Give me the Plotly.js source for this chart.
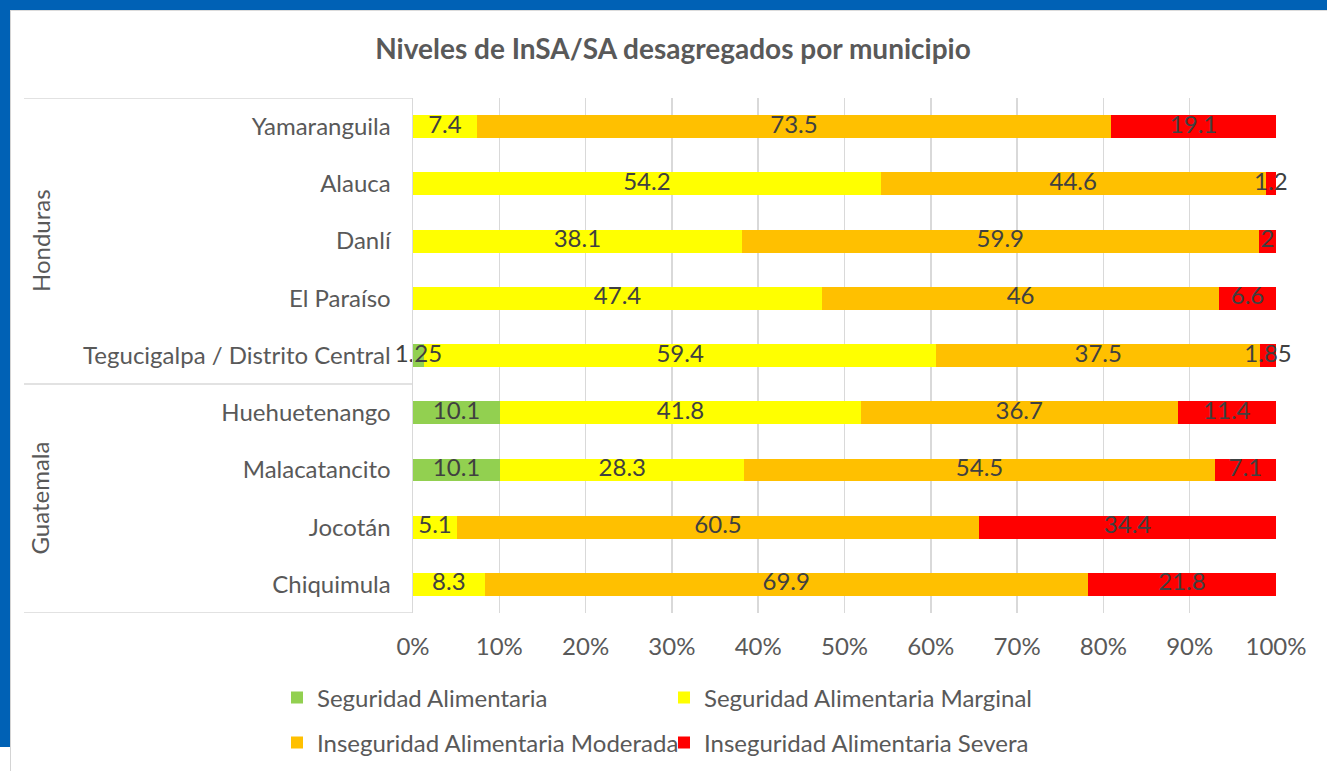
<!DOCTYPE html>
<html>
<head>
<meta charset="utf-8">
<script src="https://cdn.plot.ly/plotly-3.0.1.min.js"></script>
<style>
  html, body { margin: 0; padding: 0; background: #ffffff; }
  #wrap { position: relative; width: 1327px; height: 771px; overflow: hidden; background: #ffffff; }
  #chart { position: absolute; left: 0; top: 0; width: 1327px; height: 771px; }
  .frame { position: absolute; }
</style>
</head>
<body>
<div id="wrap">
  <div class="frame" style="left:0;top:0;width:1327px;height:10px;background:#0061b5;"></div>
  <div class="frame" style="left:0;top:10px;width:1327px;height:1px;background:#dcdcdc;"></div>
  <div class="frame" style="left:0;top:0;width:10px;height:747px;background:#0061b5;"></div>
  <div class="frame" style="left:10px;top:10px;width:1px;height:761px;background:#d4d4d4;"></div>
  <div id="chart"></div>
</div>
<script>
const municipios = ["Yamaranguila", "Alauca", "Danlí", "El Paraíso", "Tegucigalpa / Distrito Central",
                    "Huehuetenango", "Malacatancito", "Jocotán", "Chiquimula"];
const paises = ["Honduras", "Guatemala"];
const seguridad = [0, 0, 0, 0, 1.25, 10.1, 10.1, 0, 0];
const marginal = [7.4, 54.2, 38.1, 47.4, 59.4, 41.8, 28.3, 5.1, 8.3];
const moderada = [73.5, 44.6, 59.9, 46, 37.5, 36.7, 54.5, 60.5, 69.9];
const severa = [19.1, 1.2, 2, 6.6, 1.85, 11.4, 7.1, 34.4, 21.8];
const xTicks = [0, 10, 20, 30, 40, 50, 60, 70, 80, 90, 100];

const seriesNames = ["Seguridad Alimentaria", "Seguridad Alimentaria Marginal",
                     "Inseguridad Alimentaria Moderada", "Inseguridad Alimentaria Severa"];
const seriesData = [seguridad, marginal, moderada, severa];
const colors = ["#92d050", "#ffff00", "#ffc000", "#ff0000"];
const legendIds = ["legend", "legend", "legend2", "legend2"];
const FONT = "Lato, 'Open Sans', sans-serif";

const barTraces = seriesData.map((vals, i) => ({
  type: "bar",
  orientation: "h",
  name: seriesNames[i],
  y: municipios,
  x: vals.map(v => v === 0 ? null : v),
  marker: { color: colors[i], line: { width: 0 } },
  hoverinfo: "skip",
  legend: legendIds[i]
}));

// data labels drawn above all bars, centred on each segment
const labelTraces = seriesData.map((vals, i) => {
  const xs = [], ys = [], ts = [];
  vals.forEach((v, j) => {
    if (v === 0) return;
    let base = 0;
    for (let k = 0; k < i; k++) base += seriesData[k][j];
    xs.push(base + v / 2);
    ys.push(municipios[j]);
    ts.push(String(v));
  });
  return {
    type: "scatter", mode: "text",
    x: xs, y: ys, text: ts,
    textposition: "middle center",
    textfont: { family: FONT, size: 24, color: "#404040" },
    cliponaxis: false,
    showlegend: false,
    hoverinfo: "skip"
  };
});

const W = 1327, H = 771;
const L = 413, R = 1276, T = 98, B = 613;
const pw = R - L;
const px2x = p => (p - L) / pw;

const lineStyle = { color: "#d9d9d9", width: 1.5 };
const shapes = [
  { type: "line", xref: "paper", yref: "y", x0: px2x(24), x1: 0, y0: -0.5, y1: -0.5, line: lineStyle },
  { type: "line", xref: "paper", yref: "y", x0: px2x(24), x1: 0, y0: 4.5, y1: 4.5, line: lineStyle },
  { type: "line", xref: "paper", yref: "y", x0: px2x(24), x1: 0, y0: 8.5, y1: 8.5, line: lineStyle }
];

const annotations = [
  { text: paises[0], xref: "paper", yref: "y", x: px2x(40), y: 2, textangle: -90, showarrow: false,
    font: { family: FONT, size: 24, color: "#595959" }, xanchor: "center", yanchor: "middle" },
  { text: paises[1], xref: "paper", yref: "y", x: px2x(40), y: 6.5, textangle: -90, showarrow: false,
    font: { family: FONT, size: 24, color: "#595959" }, xanchor: "center", yanchor: "middle" }
];

const legendCommon = {
  orientation: "h",
  xref: "container", yref: "container",
  xanchor: "left", yanchor: "middle",
  entrywidth: 342,
  entrywidthmode: "pixels",
  traceorder: "normal",
  bgcolor: "rgba(0,0,0,0)",
  font: { family: FONT, size: 24, color: "#595959" }
};

const layout = {
  width: W, height: H,
  paper_bgcolor: "rgba(0,0,0,0)",
  plot_bgcolor: "rgba(0,0,0,0)",
  margin: { l: L, r: W - R, t: T, b: H - B, pad: 0, autoexpand: false },
  barmode: "stack",
  bargap: 0.6,
  title: {
    text: "<b>Niveles de InSA/SA desagregados por municipio</b>",
    font: { family: FONT, size: 28, color: "#595959" },
    xref: "container", yref: "container",
    x: 673 / W, xanchor: "center",
    y: 1 - 49 / H, yanchor: "middle"
  },
  xaxis: {
    range: [0, 100],
    tickvals: xTicks,
    ticktext: xTicks.map(v => v + "%"),
    showgrid: true,
    gridcolor: "#d9d9d9",
    gridwidth: 1.5,
    zeroline: false,
    showline: false,
    ticks: "",
    ticklabelstandoff: 17,
    tickfont: { family: FONT, size: 24, color: "#595959" },
    automargin: false,
    fixedrange: true
  },
  yaxis: {
    type: "category",
    categoryorder: "array",
    categoryarray: municipios,
    range: [8.5, -0.5],
    showgrid: false,
    zeroline: false,
    showline: true,
    linecolor: "#d9d9d9",
    linewidth: 1.5,
    ticks: "",
    ticklabelstandoff: 16,
    tickfont: { family: FONT, size: 24, color: "#595959" },
    automargin: false,
    fixedrange: true
  },
  legend: Object.assign({}, legendCommon, { x: 277 / W, y: 1 - 698 / H }),
  legend2: Object.assign({}, legendCommon, { x: 277 / W, y: 1 - 743 / H }),
  shapes: shapes,
  annotations: annotations,
  showlegend: true
};

Plotly.newPlot("chart", barTraces.concat(labelTraces), layout, { displayModeBar: false, staticPlot: true });
</script>
</body>
</html>
